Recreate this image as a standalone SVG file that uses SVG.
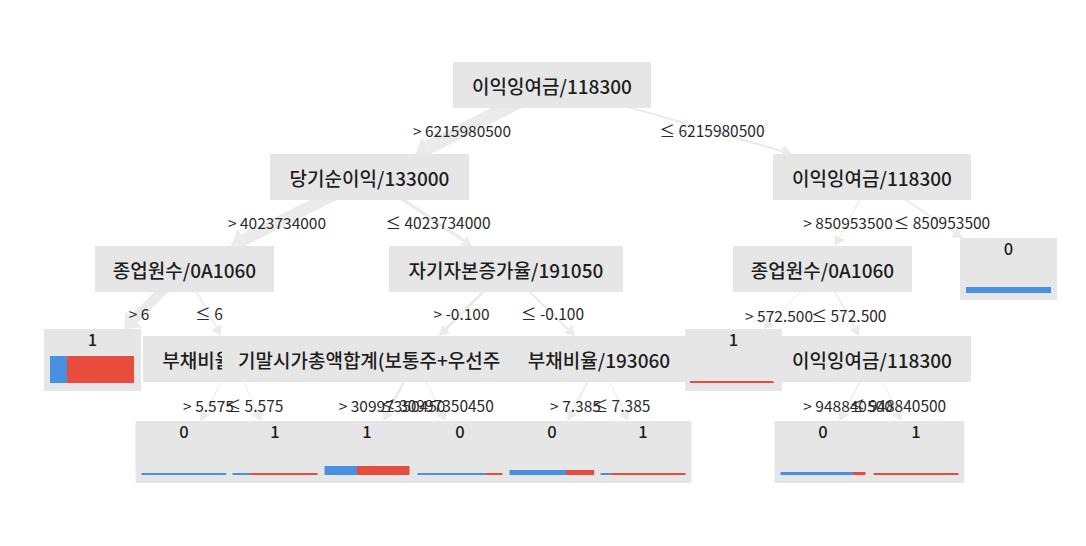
<svg xmlns="http://www.w3.org/2000/svg" width="1086" height="546" viewBox="0 0 1086 546">
<style>
text{font-family:"Noto Sans CJK KR","Noto Sans",sans-serif}
.node rect{fill:#e6e6e6}
.node text{font-size:19px;font-weight:500;fill:#1e1e1e;text-anchor:middle;dominant-baseline:central}
.leaf rect.box{fill:#e6e6e6}
.leaf text{font-size:16.5px;font-weight:500;fill:#1e1e1e;text-anchor:middle}
.edge{stroke:#ebebeb;fill:none}
.lbl{font-size:15.5px;fill:#2a2a2a;text-anchor:middle}
.b{fill:#4a90e2}
.r{fill:#e74c3c}
</style>
<defs>
<marker id="arrS" markerUnits="userSpaceOnUse" viewBox="0 0 10 12" markerWidth="10" markerHeight="12" refX="0" refY="6" orient="auto"><path d="M0,0 L10,6 L0,12 z" fill="#ebebeb"/></marker>
<marker id="arrL" markerUnits="userSpaceOnUse" viewBox="0 0 14 24" markerWidth="14" markerHeight="24" refX="0" refY="12" orient="auto"><path d="M0,0 L14,12 L0,24 z" fill="#ebebeb"/></marker>
</defs>
<rect width="1086" height="546" fill="#ffffff"/>
<g id="connectors">
<line class="edge" x1="552" y1="85" x2="427.6" y2="147.7" stroke-width="14" marker-end="url(#arrL)"/>
<line class="edge" x1="552" y1="85" x2="782.4" y2="151.2" stroke-width="2" marker-end="url(#arrS)"/>
<line class="edge" x1="369.5" y1="177" x2="243.3" y2="239.8" stroke-width="12" marker-end="url(#arrL)"/>
<line class="edge" x1="369.5" y1="177" x2="463.6" y2="240.4" stroke-width="3.5" marker-end="url(#arrS)"/>
<line class="edge" x1="872" y1="177" x2="839.6" y2="237.2" stroke-width="1.2" marker-end="url(#arrS)"/>
<line class="edge" x1="872" y1="177" x2="954.2" y2="232.4" stroke-width="2" marker-end="url(#arrS)"/>
<line class="edge" x1="184.5" y1="269" x2="133.9" y2="319.2" stroke-width="10" marker-end="url(#arrL)"/>
<line class="edge" x1="184.5" y1="269" x2="216.2" y2="327.2" stroke-width="1.5" marker-end="url(#arrS)"/>
<line class="edge" x1="506" y1="269" x2="446.1" y2="328.9" stroke-width="3" marker-end="url(#arrS)"/>
<line class="edge" x1="506" y1="269" x2="568" y2="329" stroke-width="2" marker-end="url(#arrS)"/>
<line class="edge" x1="822.5" y1="269" x2="770.8" y2="321.9" stroke-width="1" marker-end="url(#arrS)"/>
<line class="edge" x1="822.5" y1="269" x2="854.5" y2="327.2" stroke-width="1.5" marker-end="url(#arrS)"/>
<line class="edge" x1="233.5" y1="359" x2="205.2" y2="412.2" stroke-width="1" marker-end="url(#arrS)"/>
<line class="edge" x1="233.5" y1="359" x2="257.1" y2="411.9" stroke-width="1" marker-end="url(#arrS)"/>
<line class="edge" x1="416" y1="359" x2="388" y2="412.2" stroke-width="2.5" marker-end="url(#arrS)"/>
<line class="edge" x1="416" y1="359" x2="441" y2="412" stroke-width="1.2" marker-end="url(#arrS)"/>
<line class="edge" x1="599" y1="359" x2="572.2" y2="412.1" stroke-width="1.8" marker-end="url(#arrS)"/>
<line class="edge" x1="599" y1="359" x2="624" y2="412" stroke-width="1" marker-end="url(#arrS)"/>
<line class="edge" x1="872" y1="359" x2="844" y2="412.2" stroke-width="1.5" marker-end="url(#arrS)"/>
<line class="edge" x1="872" y1="359" x2="897" y2="412" stroke-width="1" marker-end="url(#arrS)"/>
<text class="lbl" x="462" y="136.5">&gt; 6215980500</text>
<text class="lbl" x="712" y="136.5">≤ 6215980500</text>
<text class="lbl" x="277" y="228.5">&gt; 4023734000</text>
<text class="lbl" x="438" y="228.5">≤ 4023734000</text>
<text class="lbl" x="848" y="228.5">&gt; 850953500</text>
<text class="lbl" x="942" y="228.5">≤ 850953500</text>
<text class="lbl" x="139" y="319.5">&gt; 6</text>
<text class="lbl" x="209" y="319.5">≤ 6</text>
<text class="lbl" x="461.5" y="319.5">&gt; -0.100</text>
<text class="lbl" x="552.5" y="319.5">≤ -0.100</text>
<text class="lbl" x="779" y="321.5">&gt; 572.500</text>
<text class="lbl" x="849" y="321.5">≤ 572.500</text>
<text class="lbl" x="208.5" y="411.5">&gt; 5.575</text>
<text class="lbl" x="254.5" y="411.5">≤ 5.575</text>
<text class="lbl" x="392" y="411.5">&gt; 30997350450</text>
<text class="lbl" x="437" y="411.5">≤ 30997350450</text>
<text class="lbl" x="575.5" y="411.5">&gt; 7.385</text>
<text class="lbl" x="621.5" y="411.5">≤ 7.385</text>
<text class="lbl" x="848" y="411.5">&gt; 948840500</text>
<text class="lbl" x="898" y="411.5">≤ 948840500</text>
</g>
<g id="n0" class="node"><rect x="453" y="62" width="198" height="46"/><text x="552" y="85">이익잉여금/118300</text></g>
<g id="n1" class="node"><rect x="270" y="154" width="199" height="46"/><text x="369.5" y="177">당기순이익/133000</text></g>
<g id="n2" class="node"><rect x="773" y="154" width="198" height="46"/><text x="872" y="177">이익잉여금/118300</text></g>
<g id="n3" class="node"><rect x="95" y="246" width="179" height="46"/><text x="184.5" y="269">종업원수/0A1060</text></g>
<g id="n4" class="node"><rect x="389" y="246" width="234" height="46"/><text x="506" y="269">자기자본증가율/191050</text></g>
<g id="n5" class="node"><rect x="733" y="246" width="179" height="46"/><text x="822.5" y="269">종업원수/0A1060</text></g>
<g id="n6" class="leaf"><rect class="box" x="960" y="238" width="97" height="62"/><text x="1008.5" y="255">0</text><rect class="b" x="966" y="287" width="85" height="6"/></g>
<g id="n7" class="leaf"><rect class="box" x="44" y="329" width="97" height="62"/><text x="92.5" y="346">1</text><rect class="b" x="50" y="356" width="17" height="27"/><rect class="r" x="67" y="356" width="67" height="27"/></g>
<g id="n8" class="node"><rect x="143" y="336" width="181" height="46"/><text x="233.5" y="359">부채비율/193060</text></g>
<g id="n9" class="node"><rect x="222" y="336" width="384" height="46"/><text x="238" y="359" style="text-anchor:start">기말시가총액합계(보통주+우선주</text></g>
<g id="n10" class="node"><rect x="508" y="336" width="182" height="46"/><text x="599" y="359">부채비율/193060</text></g>
<g id="n12" class="leaf"><rect class="box" x="685" y="329" width="97" height="62"/><text x="733.5" y="346">1</text><rect class="r" x="690" y="381" width="84" height="2"/></g>
<g id="n11" class="node"><rect x="773" y="336" width="198" height="46"/><text x="872" y="359">이익잉여금/118300</text></g>
<g id="l1" class="leaf"><rect class="box" x="135.5" y="421" width="97" height="62"/><text x="184" y="438">0</text><rect class="b" x="141.5" y="473" width="85" height="2"/></g>
<g id="l2" class="leaf"><rect class="box" x="226.5" y="421" width="97" height="62"/><text x="275" y="438">1</text><rect class="b" x="232.5" y="473" width="17.5" height="2"/><rect class="r" x="250" y="473" width="67.5" height="2"/></g>
<g id="l3" class="leaf"><rect class="box" x="318.5" y="421" width="97" height="62"/><text x="367" y="438">1</text><rect class="b" x="324.5" y="466" width="32.5" height="9"/><rect class="r" x="357" y="466" width="52.5" height="9"/></g>
<g id="l4" class="leaf"><rect class="box" x="411.5" y="421" width="97" height="62"/><text x="460" y="438">0</text><rect class="b" x="417.5" y="473" width="68.5" height="2"/><rect class="r" x="486" y="473" width="16.5" height="2"/></g>
<g id="l5" class="leaf"><rect class="box" x="503.5" y="421" width="97" height="62"/><text x="552" y="438">0</text><rect class="b" x="509.5" y="470" width="56.5" height="5"/><rect class="r" x="566" y="470" width="28.5" height="5"/></g>
<g id="l6" class="leaf"><rect class="box" x="594.5" y="421" width="97" height="62"/><text x="643" y="438">1</text><rect class="b" x="600.5" y="473" width="10.5" height="2"/><rect class="r" x="611" y="473" width="74.5" height="2"/></g>
<g id="l7" class="leaf"><rect class="box" x="774.5" y="421" width="97" height="62"/><text x="823" y="438">0</text><rect class="b" x="780.5" y="472" width="72.5" height="3"/><rect class="r" x="853" y="472" width="12.5" height="3"/></g>
<g id="l8" class="leaf"><rect class="box" x="867.5" y="421" width="97" height="62"/><text x="916" y="438">1</text><rect class="r" x="873.5" y="473" width="85" height="2"/></g>
</svg>
